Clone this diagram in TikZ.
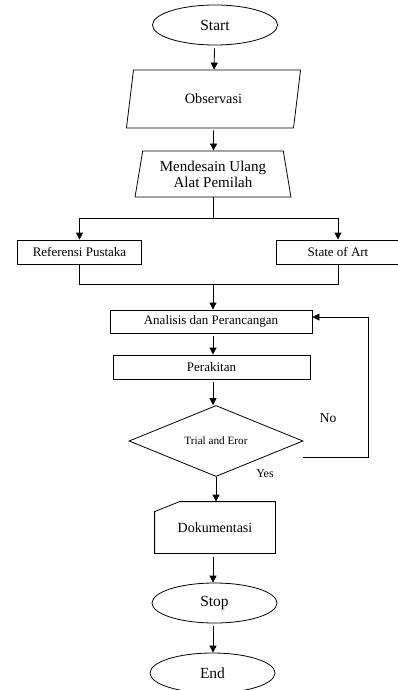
\documentclass[tikz,border=0pt]{standalone}
\usepackage{fontspec}
\setmainfont{Liberation Serif}
\usetikzlibrary{shapes.geometric,arrows.meta}

\begin{document}
\begin{tikzpicture}[x=1pt,y=-1pt,line width=0.8pt,
  flow/.style={-{Triangle[width=7pt,length=7pt]}},
  term/.style={draw,ellipse,minimum width=125pt,minimum height=40pt,inner sep=0pt,
    font=\fontsize{15.5}{18}\selectfont},
  proc/.style={draw,rectangle,inner sep=0pt,minimum height=24pt,
    font=\fontsize{13}{15}\selectfont}]
  \useasboundingbox (0,0) rectangle (398,690);

  \node[term] (start) at (215,25) {Start};
  \node[draw,trapezium,trapezium left angle=76,trapezium right angle=104,
    trapezium stretches=true,minimum width=175pt,minimum height=58pt,inner sep=0pt,
    font=\fontsize{14.3}{16}\selectfont] (obs) at (213.5,99) {Observasi};
  \node[draw,trapezium,trapezium left angle=77.7,trapezium right angle=77.7,
    trapezium stretches=true,minimum width=156pt,minimum height=46pt,inner sep=0pt,
    align=center,font=\fontsize{15}{16}\selectfont] (desain) at (213,174)
    {Mendesain Ulang\\Alat Pemilah};
  \node[proc,minimum width=124pt] (ref) at (79.5,252) {Referensi Pustaka};
  \node[proc,minimum width=123pt] (soa) at (338,252) {State of Art};
  \node[proc,minimum width=202pt,minimum height=23pt] (analisis) at (211,321.5)
    {Analisis dan Perancangan};
  \node[proc,minimum width=197pt] (rakit) at (211.5,367) {Perakitan};
  \node[draw,diamond,aspect=2.45,minimum width=174pt,minimum height=71pt,inner sep=0pt,
    font=\fontsize{11.2}{13}\selectfont] (trial) at (216,441) {Trial and Eror};
  \node[minimum width=120pt,minimum height=51pt,inner sep=0pt,
    font=\fontsize{14}{16}\selectfont] (dok) at (215,527.5) {Dokumentasi};
  \draw ([yshift=-10pt]dok.north west) -- ([xshift=25pt]dok.north west)
    -- (dok.north east) -- (dok.south east) -- (dok.south west) -- cycle;
  \node[term] (stop) at (214.5,603) {Stop};
  \node[term] (end) at (212.5,673) {End};

  \node[font=\fontsize{13.5}{15}\selectfont] (no) at (328,418) {No};
  \node[font=\fontsize{12}{14}\selectfont] (yes) at (265,474) {Yes};

  \draw[flow,shorten <=3pt] (start) -- (obs);
  \draw[flow,shorten <=2pt] (obs) -- (obs |- desain.north);
  \draw (desain.south) -- ++(0,21) coordinate (split);
  \draw (ref.north |- split) -- (soa.north |- split);
  \draw[flow] (ref.north |- split) -- (ref.north);
  \draw[flow] (soa.north |- split) -- (soa.north);
  \draw (ref.south) -- ++(0,20) coordinate (join) -| (soa.south);
  \draw[flow] (desain.south |- join) -- (desain.south |- analisis.north);
  \draw[flow,shorten <=3pt] (desain.south |- analisis.south) -- (desain.south |- rakit.north);
  \draw[flow,shorten <=3pt] (desain.south |- rakit.south) -- (desain.south |- trial.north);
  \draw[flow] (trial.south) -- (trial.south |- dok.north);
  \draw[flow,shorten <=4pt] (desain.south |- dok.south) -- (desain.south |- stop.north);
  \draw[flow,shorten <=3pt] (desain.south |- stop.south) -- (desain.south |- end.north);
  \draw[flow] ([yshift=-16pt]trial.east) -- ++(65,0) |- ([yshift=4.5pt]analisis.east);
\end{tikzpicture}
\end{document}
